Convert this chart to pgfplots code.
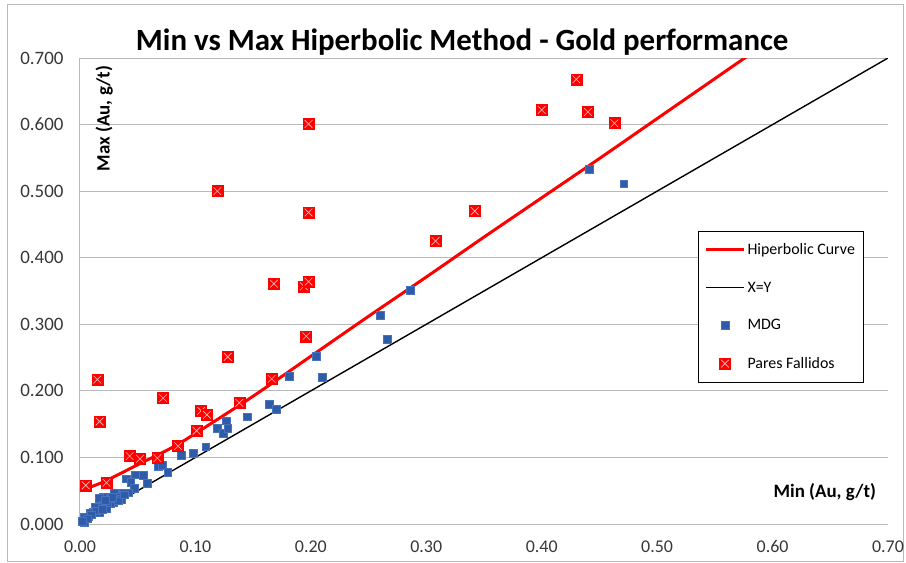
\documentclass[border=0pt]{standalone}
\usepackage{pgfplots}
\pgfplotsset{compat=1.18}
\usepackage{fontspec}
\setmainfont{Carlito}
\definecolor{mdgblue}{RGB}{47,92,168}
\definecolor{mdgedge}{RGB}{72,114,190}
\definecolor{gridgray}{RGB}{185,185,185}
\definecolor{xpink}{RGB}{255,185,185}
\definecolor{ticktext}{RGB}{55,55,55}

% red square with a light cross, as in the spreadsheet marker
\pgfdeclareplotmark{boxx}{%
  \pgfpathrectangle{\pgfpoint{-\pgfplotmarksize}{-\pgfplotmarksize}}{\pgfpoint{2\pgfplotmarksize}{2\pgfplotmarksize}}%
  \pgfusepathqfillstroke
  \pgfscope
  \pgfsetstrokecolor{xpink}%
  \pgfsetlinewidth{0.6bp}%
  \pgfpathmoveto{\pgfpoint{-0.7\pgfplotmarksize}{-0.7\pgfplotmarksize}}%
  \pgfpathlineto{\pgfpoint{0.7\pgfplotmarksize}{0.7\pgfplotmarksize}}%
  \pgfpathmoveto{\pgfpoint{-0.7\pgfplotmarksize}{0.7\pgfplotmarksize}}%
  \pgfpathlineto{\pgfpoint{0.7\pgfplotmarksize}{-0.7\pgfplotmarksize}}%
  \pgfusepathqstroke
  \endpgfscope
}

\pgfplotsset{
  lineleg/.style={legend image code/.code={\draw[##1] (0bp,0bp) -- (38bp,0bp);}},
  markleg/.style={legend image code/.code={\draw[##1] plot coordinates {(19bp,0bp)};}},
}

\begin{document}
\begin{tikzpicture}
\useasboundingbox (-80bp,-39bp) rectangle (826bp,524bp);
\draw[gridgray, line width=0.8bp] (-73bp,-37bp) rectangle (823bp,520bp);

\begin{axis}[
    at={(0,0)}, anchor=origin,
    scale only axis,
    width=808bp, height=466bp,
    xmin=0, xmax=0.7,
    ymin=0, ymax=0.7,
    xtick={0,0.1,...,0.71},
    ytick={0,0.1,...,0.71},
    major tick length=0pt,
    axis x line*=bottom,
    axis y line*=left,
    axis line style={gridgray, line width=1bp, -},
    ymajorgrids,
    major grid style={gridgray, line width=1bp},
    clip mode=individual,
    /pgf/number format/assume math mode=true,
    xticklabel style={/pgf/number format/.cd, fixed, fixed zerofill, precision=2, /tikz/.cd,
        font=\fontsize{18}{21}\selectfont, text=ticktext, yshift=-13bp},
    yticklabel style={/pgf/number format/.cd, fixed, fixed zerofill, precision=3, /tikz/.cd,
        font=\fontsize{19}{22}\selectfont, text=ticktext, xshift=-13bp},
    scaled ticks=false,
    title={Min vs Max Hiperbolic Method - Gold performance},
    title style={font=\bfseries\fontsize{31}{34}\selectfont,
        at={(axis description cs:0.473,1.004)}, anchor=base},
    xlabel={Min (Au, g/t)},
    xlabel style={font=\bfseries\fontsize{19}{22}\selectfont,
        at={(axis description cs:0.9895,0.069)}, anchor=east},
    ylabel={Max (Au, g/t)},
    ylabel style={font=\bfseries\fontsize{19}{22}\selectfont,
        at={(axis description cs:0.030,0.991)}, anchor=east},
    legend style={at={(axis description cs:0.765,0.629)}, anchor=north west,
        draw=black, line width=0.8bp, fill=white,
        font=\fontsize{16}{19}\selectfont,
        row sep=22bp, inner xsep=6bp, inner ysep=10bp,
        cells={anchor=west}},
]

% Hiperbolic curve
\addplot[red, line width=3bp, smooth, lineleg] coordinates {
    (0.000,0.050) (0.020,0.063) (0.050,0.089) (0.080,0.115) (0.100,0.136)
    (0.150,0.192) (0.200,0.252) (0.250,0.312) (0.300,0.371) (0.350,0.431)
    (0.400,0.490) (0.450,0.549) (0.500,0.609) (0.550,0.669) (0.580,0.705)
};
\addlegendentry{Hiperbolic Curve}

% X=Y
\addplot[black, line width=1.4bp, lineleg] coordinates {
    (0,0) (0.7,0.7)
};
\addlegendentry{X=Y}

% MDG
\addplot[only marks, mark=square*, mark size=3.9bp,
    mark options={fill=mdgblue, draw=mdgedge, line width=0.5bp}, markleg] coordinates {
    (0.441,0.533) (0.471,0.511) (0.286,0.351) (0.260,0.314) (0.266,0.278)
    (0.205,0.252) (0.210,0.221) (0.181,0.222) (0.164,0.180) (0.170,0.172)
    (0.145,0.161) (0.127,0.155) (0.119,0.144) (0.124,0.136) (0.128,0.144)
    (0.109,0.116) (0.098,0.106) (0.088,0.103) (0.068,0.086) (0.071,0.088)
    (0.076,0.078) (0.055,0.073) (0.058,0.061) (0.048,0.074) (0.040,0.068)
    (0.044,0.063) (0.047,0.054) (0.042,0.047) (0.037,0.047) (0.030,0.047)
    (0.032,0.039) (0.029,0.033) (0.026,0.031) (0.020,0.041) (0.017,0.039)
    (0.020,0.029) (0.016,0.026) (0.013,0.026) (0.011,0.018) (0.009,0.017)
    (0.007,0.011) (0.004,0.011) (0.004,0.003) (0.017,0.018) (0.023,0.024)
    (0.026,0.038) (0.035,0.041) (0.036,0.037) (0.033,0.035) (0.024,0.032)
    (0.014,0.020) (0.010,0.014) (0.006,0.008) (0.002,0.004) (0.028,0.040)
    (0.038,0.044) (0.022,0.036) (0.019,0.022)
};
\addlegendentry{MDG}

% Pares Fallidos
\addplot[only marks, mark=boxx, mark size=5.5bp,
    mark options={fill=red, draw=red, line width=0.5bp}, markleg] coordinates {
    (0.005,0.058) (0.015,0.217) (0.017,0.154) (0.023,0.062) (0.043,0.102)
    (0.052,0.098) (0.067,0.099) (0.072,0.189) (0.085,0.117) (0.101,0.140)
    (0.105,0.170) (0.110,0.164) (0.128,0.251) (0.138,0.182) (0.166,0.218)
    (0.196,0.282) (0.119,0.500) (0.198,0.468) (0.168,0.361) (0.194,0.357)
    (0.198,0.364) (0.198,0.601) (0.430,0.668) (0.400,0.622) (0.440,0.619)
    (0.463,0.602) (0.342,0.470) (0.308,0.425)
};
\addlegendentry{Pares Fallidos}

\end{axis}
\end{tikzpicture}
\end{document}
